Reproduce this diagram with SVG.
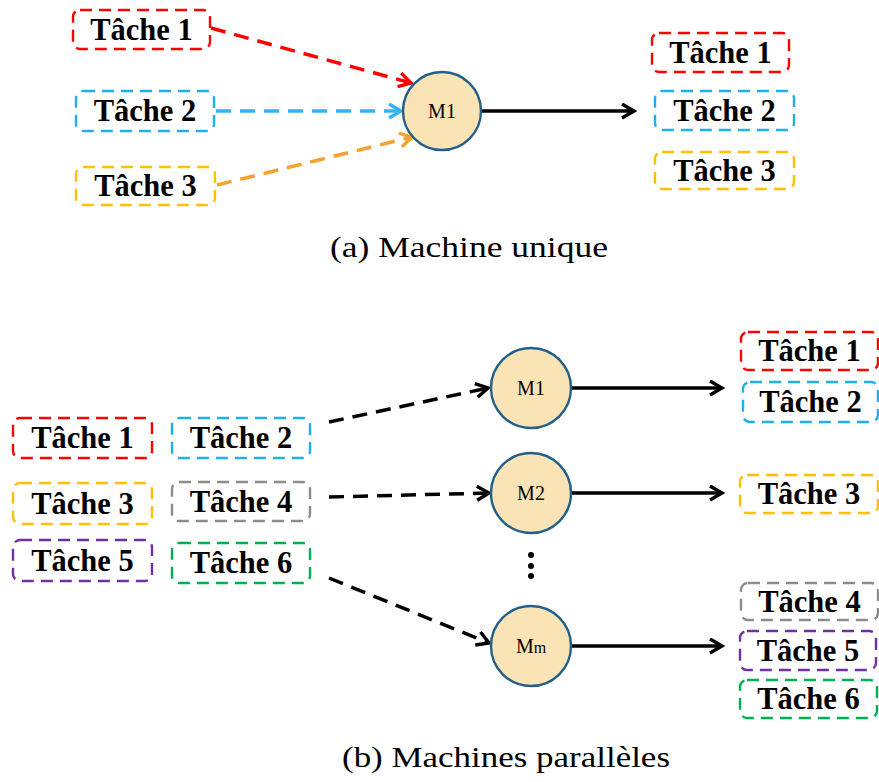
<svg xmlns="http://www.w3.org/2000/svg" width="879" height="782" viewBox="0 0 879 782">
<style>
.box{fill:#fff;stroke-width:2.4;stroke-dasharray:12 7;}
.t{font-family:"Liberation Serif","Times New Roman",serif;font-weight:bold;font-size:30.5px;text-anchor:middle;fill:#000;}
.m{fill:#FAE3B5;stroke:#22608A;stroke-width:2.4;}
.ml{font-family:"Liberation Serif","Times New Roman",serif;font-size:20px;text-anchor:middle;fill:#000;}
.cap{font-family:"Liberation Serif","Times New Roman",serif;font-size:29px;fill:#000;}
.dash{fill:none;stroke-width:3.5;stroke-dasharray:15 9;}
.solid{fill:none;stroke:#000;stroke-width:3.4;}
.red{stroke:#FF0000;} .blue{stroke:#1EB0EA;} .yel{stroke:#FFC000;} .gray{stroke:#8C8C8C;} .pur{stroke:#7030A0;} .grn{stroke:#00B050;}
.ablue{stroke:#33B4F2;} .aora{stroke:#F4A232;} .blk{stroke:#000;}
</style>
<defs>
<marker id="ak" markerUnits="userSpaceOnUse" markerWidth="20" markerHeight="20" refX="14" refY="8" orient="auto"><path d="M2,1 L14,8 L2,15" fill="none" stroke="#000" stroke-width="3.4"/></marker>
<marker id="ar" markerUnits="userSpaceOnUse" markerWidth="20" markerHeight="20" refX="14" refY="8" orient="auto"><path d="M2,1 L14,8 L2,15" fill="none" stroke="#FF0000" stroke-width="3.4"/></marker>
<marker id="ab" markerUnits="userSpaceOnUse" markerWidth="20" markerHeight="20" refX="14" refY="8" orient="auto"><path d="M2,1 L14,8 L2,15" fill="none" stroke="#33B4F2" stroke-width="3.4"/></marker>
<marker id="ao" markerUnits="userSpaceOnUse" markerWidth="20" markerHeight="20" refX="14" refY="8" orient="auto"><path d="M2,1 L14,8 L2,15" fill="none" stroke="#F4A232" stroke-width="3.4"/></marker>
</defs>

<g id="connectors">
<path class="dash red" d="M211,28 L411,83" marker-end="url(#ar)"/>
<path class="dash ablue" d="M216,111 L401,111" marker-end="url(#ab)"/>
<path class="dash aora" d="M217,185 L412,137" marker-end="url(#ao)"/>
<path class="solid" d="M481,111 L634,111" marker-end="url(#ak)"/>
<path class="dash blk" d="M329,422 L488,388" marker-end="url(#ak)"/>
<path class="dash blk" d="M329,497 L489,493" marker-end="url(#ak)"/>
<path class="dash blk" d="M329,578 L489,643" marker-end="url(#ak)"/>
<path class="solid" d="M571,388 L722,388" marker-end="url(#ak)"/>
<path class="solid" d="M571,493 L722,493" marker-end="url(#ak)"/>
<path class="solid" d="M571,646 L722,646" marker-end="url(#ak)"/>
</g>

<!-- (a) -->
<g id="a_t1_in"><rect class="box red" x="73" y="10" width="137" height="39" rx="7"/><text class="t" x="141.5" y="40">Tâche 1</text></g>
<g id="a_t2_in"><rect class="box blue" x="76" y="91" width="138" height="40" rx="7"/><text class="t" x="145" y="121">Tâche 2</text></g>
<g id="a_t3_in"><rect class="box yel" x="76" y="167" width="139" height="38" rx="7"/><text class="t" x="145.5" y="196">Tâche 3</text></g>
<g id="a_m1"><circle class="m" cx="442" cy="111" r="39"/><text class="ml" x="442" y="118">M1</text></g>
<g id="a_t1_out"><rect class="box red" x="652" y="33" width="137" height="39" rx="7"/><text class="t" x="720.5" y="63">Tâche 1</text></g>
<g id="a_t2_out"><rect class="box blue" x="655" y="91" width="139" height="39" rx="7"/><text class="t" x="724.5" y="121">Tâche 2</text></g>
<g id="a_t3_out"><rect class="box yel" x="655" y="152" width="139" height="37" rx="7"/><text class="t" x="724.5" y="181">Tâche 3</text></g>
<text class="cap" x="330" y="257" textLength="278" lengthAdjust="spacingAndGlyphs">(a) Machine unique</text>

<!-- (b) -->
<g id="b_t1_in"><rect class="box red" x="13" y="418" width="139" height="40" rx="7"/><text class="t" x="82.5" y="448">Tâche 1</text></g>
<g id="b_t2_in"><rect class="box blue" x="172" y="418" width="138" height="40" rx="7"/><text class="t" x="241" y="448">Tâche 2</text></g>
<g id="b_t3_in"><rect class="box yel" x="13" y="483" width="139" height="41" rx="7"/><text class="t" x="82.5" y="514">Tâche 3</text></g>
<g id="b_t4_in"><rect class="box gray" x="172" y="482" width="138" height="39" rx="7"/><text class="t" x="241" y="512">Tâche 4</text></g>
<g id="b_t5_in"><rect class="box pur" x="13" y="540" width="139" height="41" rx="7"/><text class="t" x="82.5" y="571">Tâche 5</text></g>
<g id="b_t6_in"><rect class="box grn" x="172" y="543" width="138" height="40" rx="7"/><text class="t" x="241" y="573">Tâche 6</text></g>

<g id="b_m1"><circle class="m" cx="531" cy="388" r="40"/><text class="ml" x="531" y="395">M1</text></g>
<g id="b_m2"><circle class="m" cx="531" cy="493" r="40"/><text class="ml" x="531" y="500">M2</text></g>
<g id="b_mm"><circle class="m" cx="531" cy="646" r="40"/><text class="ml" x="531" y="653">M<tspan font-size="16">m</tspan></text></g>
<g id="dots"><circle cx="531" cy="555" r="3"/><circle cx="531" cy="566" r="3"/><circle cx="531" cy="576" r="3"/></g>

<g id="b_t1_out"><rect class="box red" x="741" y="332" width="137" height="38" rx="7"/><text class="t" x="809.5" y="361">Tâche 1</text></g>
<g id="b_t2_out"><rect class="box blue" x="743" y="382" width="135" height="40" rx="7"/><text class="t" x="810.5" y="412">Tâche 2</text></g>
<g id="b_t3_out"><rect class="box yel" x="740" y="475" width="138" height="38" rx="7"/><text class="t" x="809" y="504">Tâche 3</text></g>
<g id="b_t4_out"><rect class="box gray" x="741" y="583" width="137" height="37" rx="7"/><text class="t" x="809.5" y="612">Tâche 4</text></g>
<g id="b_t5_out"><rect class="box pur" x="740" y="631" width="136" height="39" rx="7"/><text class="t" x="808" y="661">Tâche 5</text></g>
<g id="b_t6_out"><rect class="box grn" x="740" y="680" width="137" height="38" rx="7"/><text class="t" x="808.5" y="709">Tâche 6</text></g>
<text class="cap" x="342" y="767" textLength="328" lengthAdjust="spacingAndGlyphs">(b) Machines parallèles</text>
</svg>
